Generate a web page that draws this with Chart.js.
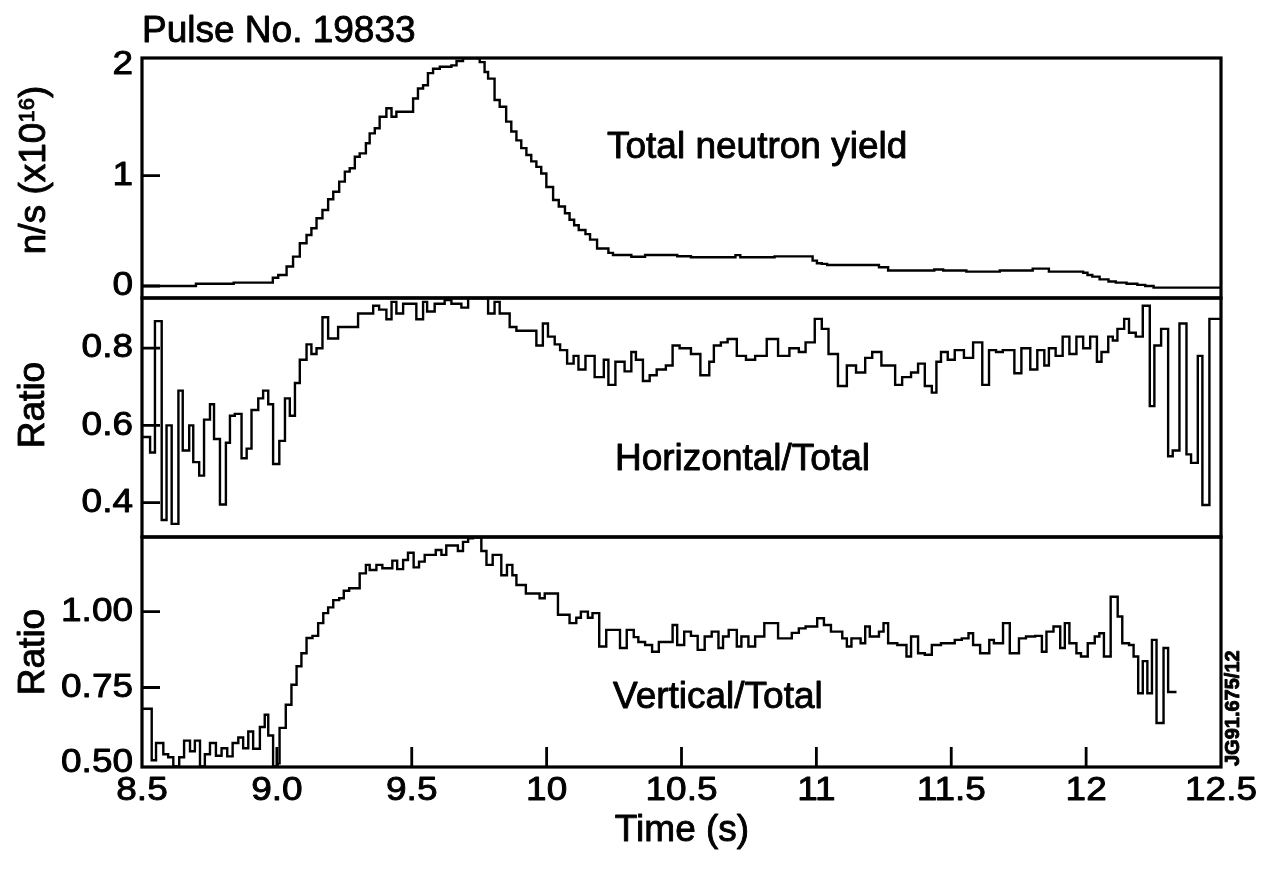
<!DOCTYPE html>
<html>
<head>
<meta charset="utf-8">
<title>Pulse No. 19833</title>
<script src="https://cdn.jsdelivr.net/npm/chart.js@4/dist/chart.umd.min.js"></script>
<style>
  html, body { margin: 0; padding: 0; background: #fff; }
  #wrap { position: relative; width: 1273px; height: 875px; }
  #wrap canvas { position: absolute; left: 0; top: 0; }
</style>
</head>
<body>
<div id="wrap">
  <canvas id="cTotal" width="1273" height="875"></canvas>
  <canvas id="cHoriz" width="1273" height="875"></canvas>
  <canvas id="cVert" width="1273" height="875"></canvas>
</div>
<script>
// ---- time axis ----
const timeTicks = [8.5, 9.0, 9.5, 10, 10.5, 11, 11.5, 12, 12.5];
const timeTickLabels = ['8.5', '9.0', '9.5', '10', '10.5', '11', '11.5', '12', '12.5'];

// ---- total neutron yield, n/s in units of 1e16: [step start time (s), level] ----
const totalYield = [
  [8.500,0.00],[8.700,0.02],[8.840,0.03],[8.985,0.075],[9.005,0.10],[9.036,0.177],[9.060,0.266],[9.085,0.387],[9.110,0.462],[9.128,0.523],
  [9.147,0.614],[9.169,0.689],[9.190,0.786],[9.209,0.855],[9.231,0.946],[9.252,1.037],[9.270,1.067],[9.289,1.172],[9.307,1.202],[9.330,1.294],
  [9.344,1.384],[9.363,1.43],[9.381,1.535],[9.406,1.611],[9.425,1.535],[9.443,1.58],[9.505,1.70],[9.523,1.79],[9.542,1.82],[9.560,1.93],
  [9.579,1.97],[9.604,1.988],[9.647,2.00],[9.666,2.04],[9.690,2.065],[9.752,2.03],[9.770,1.94],[9.783,1.88],[9.807,1.686],[9.826,1.625],
  [9.850,1.49],[9.869,1.40],[9.888,1.32],[9.906,1.25],[9.925,1.187],[9.943,1.13],[9.962,1.08],[9.980,1.02],[9.999,0.898],[10.024,0.78],
  [10.045,0.72],[10.068,0.66],[10.085,0.60],[10.102,0.55],[10.119,0.508],[10.144,0.47],[10.161,0.42],[10.187,0.34],[10.229,0.30],[10.246,0.281],
  [10.314,0.265],[10.365,0.281],[10.484,0.27],[10.535,0.26],[10.700,0.28],[10.718,0.26],[10.845,0.268],[10.986,0.23],[11.002,0.206],[11.020,0.20],
  [11.040,0.19],[11.232,0.17],[11.266,0.14],[11.437,0.15],[11.470,0.14],[11.556,0.13],[11.680,0.14],[11.802,0.157],[11.862,0.13],[11.989,0.12],
  [12.005,0.10],[12.023,0.085],[12.050,0.06],[12.083,0.04],[12.110,0.03],[12.150,0.02],[12.190,0.01],[12.219,0.00],[12.250,-0.015],[12.500,-0.015]
];

// ---- horizontal camera / total ratio: [step start time (s), ratio] ----
const horizRatio = [
  [8.500,0.57],[8.530,0.53],[8.548,0.87],[8.573,0.355],[8.591,0.60],[8.610,0.345],[8.635,0.69],[8.651,0.535],[8.675,0.60],[8.690,0.505],
  [8.712,0.47],[8.730,0.615],[8.752,0.655],[8.767,0.565],[8.789,0.395],[8.811,0.555],[8.826,0.625],[8.844,0.63],[8.869,0.515],[8.888,0.54],
  [8.906,0.64],[8.931,0.67],[8.949,0.69],[8.968,0.655],[8.986,0.50],[9.009,0.56],[9.030,0.67],[9.048,0.625],[9.067,0.71],[9.085,0.77],
  [9.110,0.81],[9.128,0.785],[9.147,0.80],[9.169,0.88],[9.190,0.825],[9.227,0.855],[9.301,0.89],[9.357,0.91],[9.379,0.90],[9.406,0.875],
  [9.425,0.92],[9.443,0.89],[9.468,0.915],[9.517,0.875],[9.542,0.92],[9.557,0.895],[9.585,0.915],[9.622,0.925],[9.647,0.915],[9.684,0.905],
  [9.709,0.93],[9.783,0.89],[9.807,0.92],[9.826,0.89],[9.863,0.855],[9.888,0.845],[9.962,0.807],[9.986,0.864],[10.005,0.83],[10.030,0.81],
  [10.050,0.795],[10.076,0.76],[10.100,0.78],[10.118,0.745],[10.144,0.78],[10.178,0.725],[10.212,0.77],[10.229,0.705],[10.255,0.765],[10.289,0.74],
  [10.314,0.79],[10.331,0.77],[10.357,0.715],[10.382,0.73],[10.408,0.745],[10.442,0.755],[10.467,0.807],[10.493,0.80],[10.535,0.785],[10.570,0.73],
  [10.603,0.765],[10.620,0.807],[10.646,0.815],[10.671,0.824],[10.705,0.78],[10.739,0.77],[10.773,0.78],[10.816,0.824],[10.858,0.78],[10.900,0.80],
  [10.935,0.79],[10.960,0.815],[10.994,0.876],[11.020,0.85],[11.045,0.785],[11.080,0.702],[11.113,0.755],[11.147,0.737],[11.181,0.775],[11.207,0.79],
  [11.241,0.755],[11.292,0.705],[11.318,0.725],[11.351,0.737],[11.377,0.76],[11.402,0.702],[11.428,0.685],[11.445,0.765],[11.462,0.79],[11.487,0.77],
  [11.513,0.795],[11.547,0.775],[11.581,0.815],[11.615,0.705],[11.640,0.795],[11.666,0.79],[11.691,0.795],[11.734,0.735],[11.760,0.80],[11.793,0.745],
  [11.819,0.795],[11.845,0.755],[11.862,0.80],[11.887,0.78],[11.913,0.83],[11.938,0.785],[11.964,0.83],[11.989,0.80],[12.015,0.83],[12.040,0.765],
  [12.057,0.79],[12.082,0.83],[12.099,0.82],[12.116,0.85],[12.141,0.876],[12.159,0.84],[12.184,0.83],[12.210,0.91],[12.236,0.65],[12.253,0.807],
  [12.278,0.85],[12.304,0.52],[12.321,0.535],[12.346,0.864],[12.372,0.525],[12.389,0.503],[12.414,0.78],[12.431,0.394],[12.457,0.876],[12.500,0.876]
];

// ---- vertical camera / total ratio: [step start time (s), ratio] ----
const vertRatio = [
  [8.500,0.68],[8.536,0.51],[8.552,0.567],[8.579,0.53],[8.597,0.52],[8.616,0.49],[8.638,0.52],[8.656,0.575],[8.678,0.54],[8.696,0.575],
  [8.715,0.49],[8.733,0.53],[8.752,0.567],[8.774,0.525],[8.795,0.55],[8.816,0.523],[8.836,0.567],[8.857,0.585],[8.875,0.55],[8.894,0.605],
  [8.912,0.548],[8.937,0.62],[8.955,0.66],[8.968,0.592],[8.986,0.49],[9.003,0.50],[9.010,0.617],[9.033,0.693],[9.054,0.759],[9.073,0.82],
  [9.091,0.863],[9.110,0.913],[9.132,0.92],[9.153,0.962],[9.172,0.995],[9.190,1.014],[9.209,1.038],[9.231,1.044],[9.248,1.069],[9.268,1.077],
  [9.307,1.126],[9.330,1.154],[9.344,1.137],[9.369,1.154],[9.391,1.143],[9.428,1.168],[9.446,1.14],[9.468,1.17],[9.486,1.194],[9.507,1.146],
  [9.527,1.165],[9.548,1.187],[9.589,1.203],[9.610,1.187],[9.628,1.218],[9.671,1.20],[9.690,1.23],[9.709,1.242],[9.727,1.245],[9.758,1.20],
  [9.777,1.154],[9.800,1.187],[9.832,1.12],[9.853,1.154],[9.873,1.12],[9.888,1.088],[9.923,1.06],[9.974,1.044],[9.993,1.06],[10.042,0.99],
  [10.085,0.962],[10.110,0.98],[10.127,1.0],[10.153,0.98],[10.170,0.995],[10.195,0.885],[10.221,0.94],[10.272,0.88],[10.297,0.94],[10.323,0.916],
  [10.340,0.90],[10.365,0.89],[10.391,0.868],[10.416,0.90],[10.467,0.956],[10.484,0.89],[10.510,0.934],[10.535,0.92],[10.560,0.874],[10.586,0.918],
  [10.612,0.934],[10.637,0.88],[10.654,0.918],[10.675,0.94],[10.705,0.885],[10.722,0.918],[10.748,0.885],[10.773,0.918],[10.807,0.962],[10.858,0.912],
  [10.909,0.93],[10.935,0.945],[10.960,0.951],[11.003,0.978],[11.028,0.956],[11.054,0.934],[11.096,0.912],[11.113,0.885],[11.130,0.912],[11.164,0.896],
  [11.181,0.951],[11.198,0.918],[11.232,0.934],[11.249,0.962],[11.266,0.896],[11.300,0.89],[11.334,0.852],[11.351,0.918],[11.377,0.863],[11.402,0.858],
  [11.428,0.89],[11.462,0.896],[11.513,0.907],[11.539,0.912],[11.564,0.929],[11.581,0.89],[11.607,0.863],[11.641,0.907],[11.658,0.896],[11.692,0.962],
  [11.717,0.863],[11.751,0.912],[11.777,0.918],[11.811,0.92],[11.836,0.868],[11.853,0.934],[11.879,0.951],[11.904,0.88],[11.921,0.962],[11.938,0.896],
  [11.964,0.863],[11.981,0.852],[12.006,0.896],[12.032,0.918],[12.049,0.929],[12.066,0.852],[12.091,1.049],[12.117,0.984],[12.134,0.896],[12.159,0.89],
  [12.176,0.852],[12.193,0.731],[12.210,0.837],[12.227,0.731],[12.244,0.907],[12.261,0.633],[12.287,0.88],[12.304,0.735],[12.335,0.735]
];

// ---- y tick values and labels per panel ----
const totalTickValues = [0, 1, 2];
const totalTickLabels = ['0', '1', '2'];
const horizTickValues = [0.4, 0.6, 0.8];
const horizTickLabels = ['0.4', '0.6', '0.8'];
const vertTickValues = [0.5, 0.75, 1.0];
const vertTickLabels = ['0.50', '0.75', '1.00'];

// ---- drawing helpers ----
const FONT = '"Liberation Sans", Arial, Helvetica, sans-serif';
const TICK_PX = 33;        // tick label size
const TICK_STRETCH = 1.12; // the tick numerals are set a little wide
const INK = 0.9;           // extra stroke that gives the lettering its heavy look

function inkText(ctx, text, x, y) {
  ctx.fillText(text, x, y);
  ctx.strokeText(text, x, y);
}

function wideText(ctx, text, x, y, align) {
  ctx.save();
  ctx.translate(x, y);
  ctx.scale(TICK_STRETCH, 1);
  ctx.textAlign = align;
  inkText(ctx, text, 0, 0);
  ctx.restore();
}

// text made of runs (for superscripts), optionally rotated
function richText(ctx, parts, x, y, align, angle) {
  ctx.save();
  ctx.translate(x, y);
  ctx.rotate(angle || 0);
  ctx.textAlign = 'left';
  ctx.textBaseline = 'alphabetic';
  let total = 0;
  const widths = parts.map(p => {
    ctx.font = `${p.weight || 'normal'} ${p.size}px ${FONT}`;
    const w = ctx.measureText(p.t).width;
    total += w;
    return w;
  });
  let cx = align === 'center' ? -total / 2 : (align === 'right' ? -total : 0);
  parts.forEach((p, i) => {
    ctx.font = `${p.weight || 'normal'} ${p.size}px ${FONT}`;
    inkText(ctx, p.t, cx, -(p.rise || 0));
    cx += widths[i];
  });
  ctx.restore();
}

// frame, inward tick marks, tick labels and captions of one panel
function panelDecor(d) {
  return {
    id: 'panelDecor',
    afterDraw(chart) {
      const ctx = chart.ctx;
      const a = chart.chartArea;
      const xs = chart.scales.x, ys = chart.scales.y;
      ctx.save();
      ctx.strokeStyle = '#000';
      ctx.fillStyle = '#000';

      ctx.lineWidth = 2.8;
      ctx.beginPath();
      d.yMarks.forEach(v => {
        const p = ys.getPixelForValue(v);
        ctx.moveTo(a.left, p); ctx.lineTo(a.left + 18, p);
      });
      (d.xMarks || []).forEach(v => {
        const p = xs.getPixelForValue(v);
        ctx.moveTo(p, a.bottom); ctx.lineTo(p, a.bottom - 20);
      });
      ctx.stroke();

      ctx.lineWidth = 3.2;
      ctx.strokeRect(a.left, a.top, a.right - a.left, a.bottom - a.top);

      ctx.lineWidth = INK;
      ctx.lineJoin = 'round';
      ctx.font = `${TICK_PX}px ${FONT}`;
      ctx.textBaseline = 'middle';
      d.yValues.forEach((v, i) => wideText(ctx, d.yLabels[i], a.left - 9, ys.getPixelForValue(v), 'right'));
      if (d.xValues) {
        ctx.textBaseline = 'alphabetic';
        d.xValues.forEach((v, i) => wideText(ctx, d.xLabels[i], xs.getPixelForValue(v), a.bottom + 33, 'center'));
      }

      d.texts.forEach(t => richText(ctx, t.parts, t.x, t.y, t.align, t.angle));
      ctx.restore();
    }
  };
}

function stepSeries(steps) {
  return steps.map(([t, v]) => ({ x: t, y: v }));
}

function panelChart(id, steps, yMin, yMax, padding, decor) {
  return new Chart(document.getElementById(id), {
    type: 'line',
    data: {
      datasets: [{
        data: stepSeries(steps),
        borderColor: '#000',
        borderWidth: 2.4,
        pointRadius: 0,
        stepped: 'before',
        fill: false,
        tension: 0
      }]
    },
    options: {
      responsive: false,
      animation: false,
      events: [],
      layout: { padding },
      plugins: { legend: { display: false }, tooltip: { enabled: false }, title: { display: false } },
      scales: {
        x: { type: 'linear', min: 8.5, max: 12.5, display: false },
        y: { type: 'linear', min: yMin, max: yMax, display: false }
      }
    },
    plugins: [panelDecor(decor)]
  });
}

const UP = -Math.PI / 2;

// top panel: total neutron yield
panelChart('cTotal', totalYield, -0.109, 2.067,
  { left: 142, right: 52, top: 58, bottom: 577 },
  {
    yMarks: [0, 1],
    yValues: totalTickValues, yLabels: totalTickLabels,
    texts: [
      { parts: [{ t: 'Pulse No. 19833', size: 37 }], x: 142, y: 42, align: 'left' },
      { parts: [{ t: 'n/s (x10', size: 37 }, { t: '16', size: 22, rise: 11 }, { t: ')', size: 37 }],
        x: 45, y: 170, align: 'center', angle: UP },
      { parts: [{ t: 'Total neutron yield', size: 37 }], x: 607, y: 158, align: 'left' }
    ]
  });

// middle panel: horizontal / total
panelChart('cHoriz', horizRatio, 0.311, 0.930,
  { left: 142, right: 52, top: 298, bottom: 338 },
  {
    yMarks: horizTickValues,
    yValues: horizTickValues, yLabels: horizTickLabels,
    texts: [
      { parts: [{ t: 'Ratio', size: 37 }], x: 44, y: 405, align: 'center', angle: UP },
      { parts: [{ t: 'Horizontal/Total', size: 37 }], x: 615, y: 470, align: 'left' }
    ]
  });

// bottom panel: vertical / total, with the time axis
panelChart('cVert', vertRatio, 0.488, 1.246,
  { left: 142, right: 52, top: 537, bottom: 108 },
  {
    yMarks: [0.75, 1.0],
    yValues: vertTickValues, yLabels: vertTickLabels,
    xMarks: timeTicks.slice(1, -1),
    xValues: timeTicks, xLabels: timeTickLabels,
    texts: [
      { parts: [{ t: 'Ratio', size: 37 }], x: 44, y: 652, align: 'center', angle: UP },
      { parts: [{ t: 'Vertical/Total', size: 37 }], x: 613, y: 708, align: 'left' },
      { parts: [{ t: 'Time (s)', size: 37 }], x: 682, y: 841, align: 'center' },
      { parts: [{ t: 'JG91.675/12', size: 20, weight: 'bold' }], x: 1239, y: 766, align: 'left', angle: UP }
    ]
  });
</script>
</body>
</html>
